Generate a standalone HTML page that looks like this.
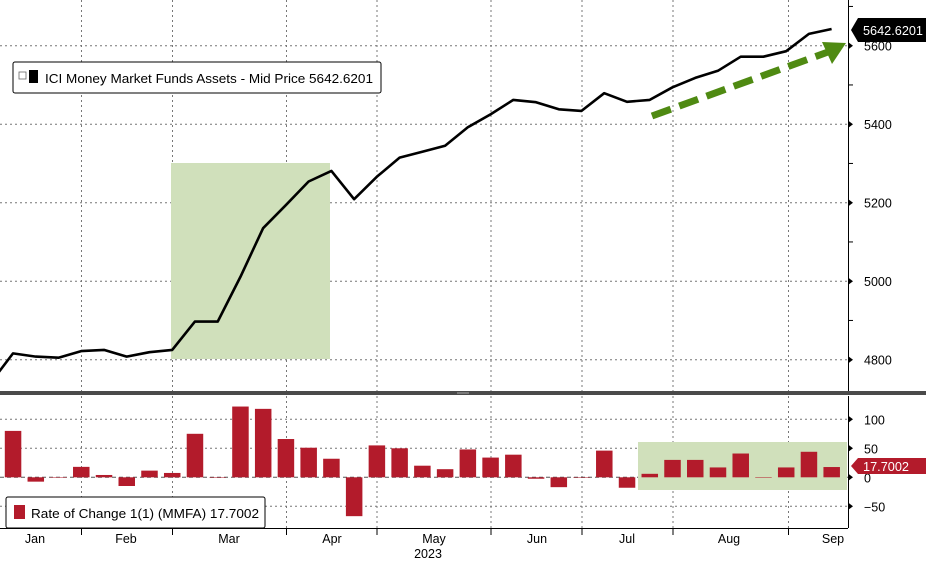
<!DOCTYPE html>
<html><head><meta charset="utf-8"><style>
html,body{margin:0;padding:0;background:#fff;}
svg{display:block;font-family:"Liberation Sans",sans-serif;}
</style></head><body>
<svg id="chart" width="926" height="561" viewBox="0 0 926 561" xmlns="http://www.w3.org/2000/svg">
<rect width="926" height="561" fill="#fff"/>
<g id="grid"></g>
<rect x="171" y="163" width="159" height="196" fill="#d0e0bb"/>
<rect x="638" y="442" width="209" height="48" fill="#d0e0bb"/>
<g id="bars"></g>
<g id="line"></g>
<line x1="652" y1="116" x2="828" y2="52" stroke="#4f8a12" stroke-width="7" stroke-dasharray="20,9"/>
<polygon points="846,43 822,42 832,64" fill="#4f8a12"/>
<rect x="0" y="391" width="926" height="4" fill="#4a4a4a"/>
<line x1="457" y1="393" x2="469" y2="393" stroke="#aaa" stroke-width="1"/>
<line x1="848.5" y1="0" x2="848.5" y2="391" stroke="#000"/>
<line x1="848.5" y1="396" x2="848.5" y2="528" stroke="#000"/>
<line x1="0" y1="528.5" x2="848" y2="528.5" stroke="#000"/>
<g id="axes"></g>
<g>
<rect x="13" y="62" width="368" height="31" rx="2" fill="#fff" stroke="#000"/>
<rect x="19" y="72" width="7" height="7" fill="#fff" stroke="#666" stroke-width="0.8"/>
<rect x="29" y="70" width="9" height="13" fill="#000"/>
<text x="45" y="83" font-size="12.5" textLength="328" lengthAdjust="spacingAndGlyphs">ICI Money Market Funds Assets - Mid Price 5642.6201</text>
</g>
<g>
<rect x="6" y="497" width="259" height="31" rx="2" fill="#fff" stroke="#000"/>
<rect x="14" y="505" width="11" height="14" fill="#b31b2b"/>
<text x="31" y="518" font-size="12.5" textLength="228" lengthAdjust="spacingAndGlyphs">Rate of Change 1(1) (MMFA) 17.7002</text>
</g>
<g>
<polygon points="851,30 858,18 926,18 926,42 858,42" fill="#000"/>
<text x="863" y="35" font-size="12.5" fill="#fff" textLength="60" lengthAdjust="spacingAndGlyphs">5642.6201</text>
</g>
<g>
<polygon points="851,466 858,458 926,458 926,474 858,474" fill="#b31b2b"/>
<text x="863" y="471" font-size="12.5" fill="#fff" textLength="46" lengthAdjust="spacingAndGlyphs">17.7002</text>
</g>
</svg>
<script>
const levels=[4740,4816,4808,4805,4822,4825,4808,4819,4825,4897,4897,5011,5135,5194,5254,5281,5209,5266,5315,5330,5345,5392,5425,5462,5456,5438,5434,5479,5457,5462,5494,5518,5536,5572,5572,5586,5630,5642.62];
const roc=[80,-7.5,0.5,18,4,-15,11.5,7.5,75,0,122,118,66,51,32,-67,55,50,20,14,48,34,39,-2.5,-17,0,46,-18,6,30,30,17,41,0,17,44,17.7];
const topTicks=[4800,5000,5200,5400,5600];
const botTicks=[-50,0,50,100];
const months=["Jan","Feb","Mar","Apr","May","Jun","Jul","Aug","Sep"];
const monthLabelX=[35,126,229,332,434,537,627,729,833];
const monthBounds=[81.5,172.5,286.5,377,491,582,673,788.5];
const NS="http://www.w3.org/2000/svg";
const xOf=i=>13+22.74*i;
const yTop=v=>45.7+(5600-v)*0.3925;
const yBot=v=>477.3-v*0.58;
function mk(tag,attrs,parent,txt){const e=document.createElementNS(NS,tag);for(const k in attrs)e.setAttribute(k,attrs[k]);if(txt!=null)e.textContent=txt;parent.appendChild(e);return e;}
const grid=document.getElementById('grid'),axes=document.getElementById('axes');
monthBounds.forEach(x=>{
  const g=mk('line',{x1:x,y1:0,x2:x,y2:391,stroke:'#777','stroke-dasharray':'2,3'},grid);
  
  
  mk('line',{x1:x,y1:396,x2:x,y2:528,stroke:'#777','stroke-dasharray':'2,3'},grid);
  mk('line',{x1:x,y1:528,x2:x,y2:535,stroke:'#000'},axes);
});
topTicks.forEach(v=>{
  const y=yTop(v);
  mk('line',{x1:0,y1:y,x2:848,y2:y,stroke:'#777','stroke-dasharray':'2,3'},grid);
  mk('polygon',{points:`849,${y-3} 853,${y} 849,${y+3}`,fill:'#000'},axes);
  const t=mk('text',{x:864,y:y+5,'font-size':12.5},axes,String(v));
  
  
  mk('line',{x1:849,y1:yTop(v+100),x2:853,y2:yTop(v+100),stroke:'#000'},axes);
});
botTicks.forEach(v=>{
  const y=yBot(v);
  mk('line',{x1:0,y1:y,x2:848,y2:y,stroke:v===0?'#555':'#777','stroke-dasharray':v===0?'4,3':'2,3'},grid);
  mk('polygon',{points:`849,${y-3} 853,${y} 849,${y+3}`,fill:'#000'},axes);
  const t=mk('text',{x:864,y:y+5,'font-size':12.5},axes,v<0?'\u221250':String(v));
  
  
});
months.forEach((m,i)=>{
  const t=mk('text',{x:monthLabelX[i],y:543,'font-size':12.5,'text-anchor':'middle'},axes,m);
  
  
});
const yr=mk('text',{x:428,y:558,'font-size':12.5,'text-anchor':'middle'},axes,'2023');


const bars=document.getElementById('bars');
roc.forEach((v,i)=>{
  const y0=yBot(0),y1=yBot(v);
  const r=mk('rect',{x:xOf(i)-8.2,y:Math.min(y0,y1),width:16.5,height:Math.max(0.5,Math.abs(y1-y0)),fill:'#b31b2b'},bars);
  
  
});
const pts=levels.map((v,i)=>`${xOf(i-1).toFixed(1)},${yTop(v).toFixed(1)}`).join(' ');
const pl=mk('polyline',{points:pts,fill:'none',stroke:'#000','stroke-width':2.6,'stroke-linejoin':'round'},document.getElementById('line'));


</script>
</body></html>
